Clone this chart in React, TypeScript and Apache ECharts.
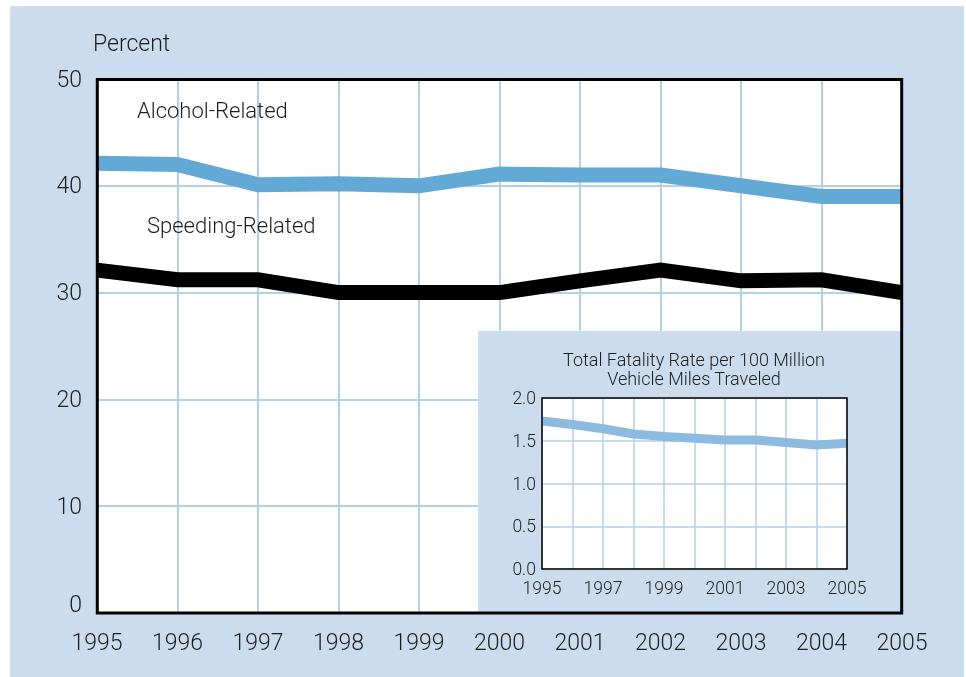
import React, { useEffect, useRef } from 'react';
import * as echarts from 'echarts';

const years = ['1995', '1996', '1997', '1998', '1999', '2000', '2001', '2002', '2003', '2004', '2005'];
const alcoholRelated = [42.1, 42.0, 40.1, 40.2, 40.0, 41.1, 41.0, 41.0, 40.0, 39.0, 39.0];
const speedingRelated = [32.1, 31.2, 31.2, 30.0, 30.0, 30.0, 31.1, 32.1, 31.1, 31.2, 30.0];
const fatalityRate = [1.73, 1.69, 1.64, 1.58, 1.55, 1.53, 1.51, 1.51, 1.48, 1.45, 1.47];

const FONT = 'Roboto, "Liberation Sans", Arial, sans-serif';
const FW = 300;
const TXT = '#1e1e1e';
const BG = '#cadcee';
const GRIDC = '#b3cfe9';

function label(text: string, x: number, y: number, size: number, align = 'left') {
  return {
    type: 'text',
    x,
    y,
    z: 30,
    silent: true,
    style: {
      text,
      fontSize: size,
      fontFamily: FONT,
      fontWeight: FW,
      fill: TXT,
      align,
      textAlign: align,
      verticalAlign: 'middle',
      textVerticalAlign: 'middle',
    },
  };
}

export default function App() {
  const ref = useRef<HTMLDivElement>(null);
  useEffect(() => {
    const chart = echarts.init(ref.current!, null, { renderer: 'svg' });
    chart.setOption({
      animation: false,
      grid: [
        { left: 97, top: 79, width: 805, height: 534, show: true, backgroundColor: '#ffffff', borderWidth: 0, z: 0 },
        { left: 542, top: 398, width: 305, height: 171, show: true, backgroundColor: '#ffffff', borderWidth: 0, z: 5 },
      ],
      xAxis: [
        {
          gridIndex: 0,
          type: 'category',
          data: years,
          boundaryGap: false,
          axisLine: { show: false },
          axisTick: { show: false },
          axisLabel: { interval: 0, fontSize: 23, fontFamily: FONT, fontWeight: FW, color: TXT, margin: 18 },
          splitLine: { show: true, interval: 0, lineStyle: { color: GRIDC, width: 2 } },
          z: 1,
        },
        {
          gridIndex: 1,
          type: 'category',
          data: years,
          boundaryGap: false,
          axisLine: { show: false },
          axisTick: { show: false },
          axisLabel: { interval: 1, fontSize: 17.5, fontFamily: FONT, fontWeight: FW, color: TXT, margin: 10 },
          splitLine: { show: true, interval: 0, lineStyle: { color: GRIDC, width: 1.5 } },
          z: 5,
        },
      ],
      yAxis: [
        {
          gridIndex: 0,
          type: 'value',
          min: 0,
          max: 50,
          interval: 10,
          axisLine: { show: false },
          axisTick: { show: false },
          axisLabel: {
            fontSize: 23,
            fontFamily: FONT,
            fontWeight: FW,
            color: TXT,
            margin: 15,
            formatter: (v: number) => (v === 0 ? '{z|0}' : String(v)),
            rich: { z: { fontSize: 23, fontFamily: FONT, fontWeight: FW, color: TXT, padding: [0, 0, 18, 0] } },
          },
          splitLine: { show: true, lineStyle: { color: GRIDC, width: 2 } },
          z: 1,
        },
        {
          gridIndex: 1,
          type: 'value',
          min: 0,
          max: 2,
          interval: 0.5,
          axisLine: { show: false },
          axisTick: { show: false },
          axisLabel: {
            fontSize: 17.5,
            fontFamily: FONT,
            fontWeight: FW,
            color: TXT,
            margin: 6,
            formatter: (v: number) => v.toFixed(1),
          },
          splitLine: { show: true, lineStyle: { color: GRIDC, width: 1.5 } },
          z: 5,
        },
      ],
      series: [
        {
          type: 'line',
          xAxisIndex: 0,
          yAxisIndex: 0,
          data: alcoholRelated,
          symbol: 'none',
          lineStyle: { color: '#62a9d6', width: 15, join: 'miter' },
          z: 2,
        },
        {
          type: 'line',
          xAxisIndex: 0,
          yAxisIndex: 0,
          data: speedingRelated,
          symbol: 'none',
          lineStyle: { color: '#000000', width: 15, join: 'miter' },
          z: 2,
        },
        {
          type: 'line',
          xAxisIndex: 1,
          yAxisIndex: 1,
          data: fatalityRate,
          symbol: 'none',
          lineStyle: { color: '#8dbbe0', width: 9, join: 'miter' },
          z: 6,
        },
      ],
      graphic: [
        { type: 'rect', z: -10, silent: true, shape: { x: 10, y: 6, width: 954, height: 671 }, style: { fill: BG } },
        { type: 'rect', z: 4, silent: true, shape: { x: 478, y: 331, width: 424, height: 282 }, style: { fill: BG } },
        {
          type: 'rect',
          z: 20,
          silent: true,
          shape: { x: 97.3, y: 79.5, width: 804.4, height: 533.5 },
          style: { fill: 'none', stroke: '#000', lineWidth: 3 },
        },
        {
          type: 'rect',
          z: 20,
          silent: true,
          shape: { x: 542, y: 398, width: 305, height: 171 },
          style: { fill: 'none', stroke: '#000', lineWidth: 1.5 },
        },
        label('Percent', 93, 43, 23),
        label('Alcohol-Related', 137, 110, 22),
        label('Speeding-Related', 147, 225, 22),
        label('Total Fatality Rate per 100 Million', 694, 359, 18, 'center'),
        label('Vehicle Miles Traveled', 694, 378, 18, 'center'),
      ],
    });
    return () => chart.dispose();
  }, []);
  return <div ref={ref} style={{ position: 'fixed', left: 0, top: 0, width: 966, height: 677 }} />;
}
